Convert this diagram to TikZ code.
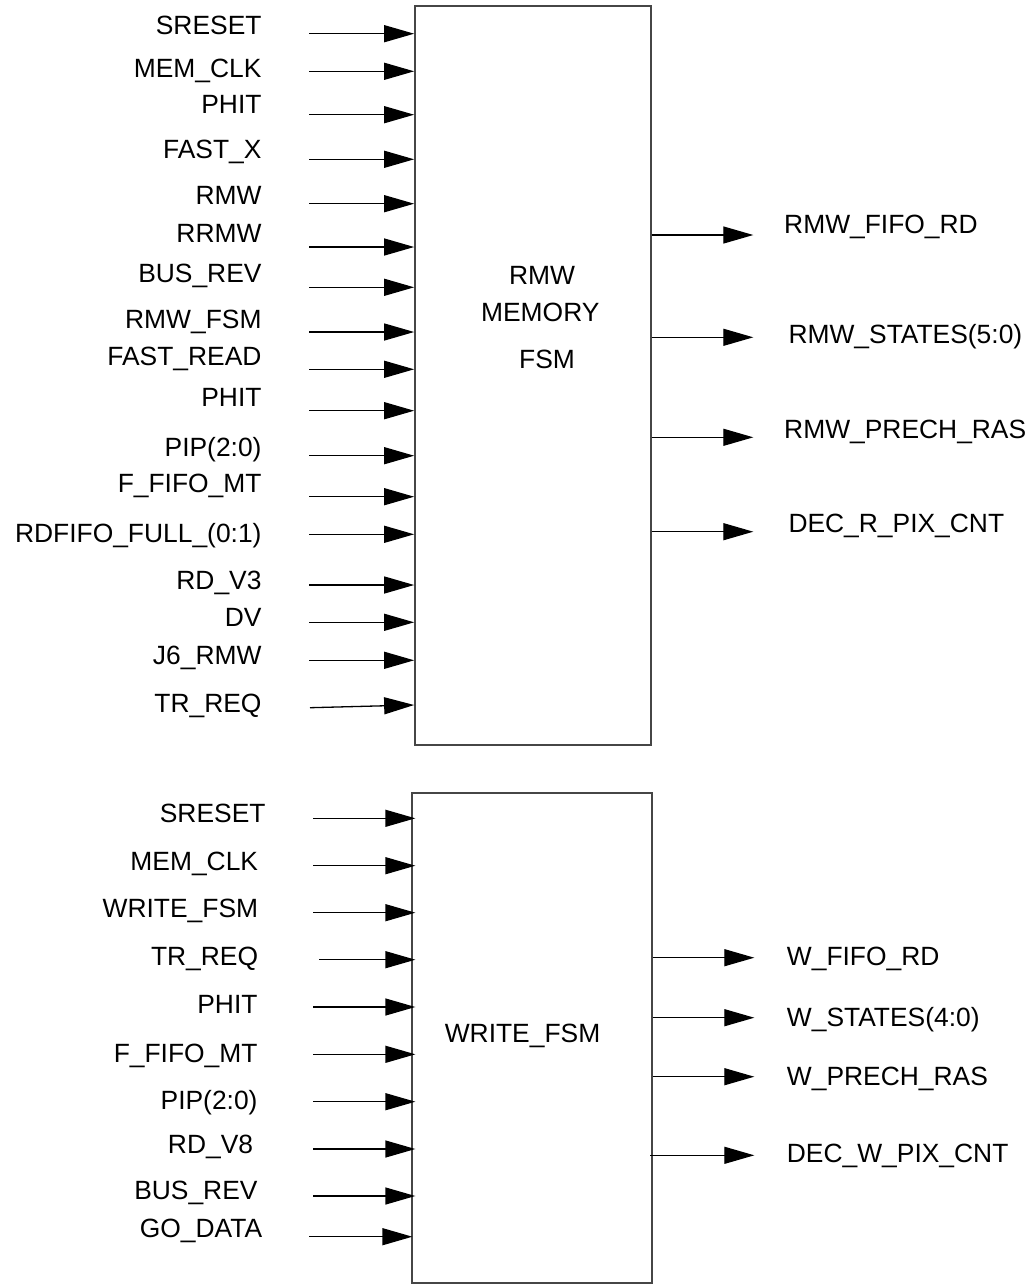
\documentclass[tikz,border=0pt]{standalone}
\usepackage{fontspec}
\setmainfont{Liberation Sans}
\usetikzlibrary{arrows.meta,calc}
\definecolor{boxgray}{RGB}{70,70,70}
\tikzset{
  sig/.style={line width=1.3pt, black, -{Triangle[length=30pt,width=17pt]}},
  fsmbox/.style={draw=boxgray, line width=1.7pt, rectangle, inner sep=0pt, fill=white},
  lbl/.style={inner sep=0pt, font=\fontsize{26.4}{30}\selectfont},
}
\begin{document}
\begin{tikzpicture}[x=1pt,y=-1pt]
\useasboundingbox[fill=white] (0,0) rectangle (1031,1286);
% boxes
\node[fsmbox, minimum width=235.7pt, minimum height=739.3pt] (rmw) at (532.85,375.35) {};
\node[fsmbox, minimum width=240pt, minimum height=490pt] (wfsm) at (531.7,1038.3) {};
% box texts
\node[lbl, anchor=base] (t1) at (542,284.45) {RMW};
\node[lbl, anchor=base] (t2) at (540.3,321.95) {MEMORY};
\node[lbl, anchor=base] (t3) at (547,368.95) {FSM};
\node[lbl, anchor=base] (t4) at (522.5,1042.75) {WRITE\_FSM};
% top inputs
\foreach \i/\t/\ly/\ay in {
  1/SRESET/24.7/33.7, 2/MEM\_CLK/67.8/71.3, 3/PHIT/103.8/114.7,
  4/FAST\_X/148.7/159.3, 5/RMW/195.3/203.7, 6/RRMW/233.3/247,
  7/BUS\_REV/273.3/287.3, 8/RMW\_FSM/318.8/332, 9/FAST\_READ/356/369.3,
  10/PHIT/396.7/410.7, 11/PIP(2:0)/447.2/455.7, 12/F\_FIFO\_MT/482.8/496.7,
  13/RDFIFO\_FULL\_(0:1)/532.8/534.3, 14/RD\_V3/580.5/585, 15/DV/616.7/622.3,
  16/J6\_RMW/655.3/660.3}{
  \node[lbl, anchor=base east] (a\i) at (261.7,\ly+9.45) {\t};
  \coordinate (as\i) at (309.3,\ay);
  \draw[sig] (as\i) -- (rmw.west |- as\i);
}
\node[lbl, anchor=base east] (a17) at (261.7,712.15) {TR\_REQ};
\coordinate (as17) at (310,707.7);
\coordinate (ae17) at (310,705);
\draw[sig] (as17) -- (rmw.west |- ae17);
% top outputs
\foreach \i/\t/\lx/\ly/\ay in {
  1/RMW\_FIFO\_RD/784/223.8/235, 2/RMW\_STATES(5:0)/788.3/333.7/337.3,
  3/RMW\_PRECH\_RAS/784/429.2/437.3, 4/DEC\_R\_PIX\_CNT/788.3/522.8/531.7}{
  \node[lbl, anchor=base west] (b\i) at (\lx,\ly+9.45) {\t};
  \coordinate (be\i) at (753.3,\ay);
  \draw[sig] (rmw.east |- be\i) -- (be\i);
}
% bottom inputs
\foreach \i/\t/\lx/\ly/\ay/\sx in {
  1/SRESET/265.7/812.8/818.3/313.3, 2/MEM\_CLK/258.3/861.2/865.7/313.3,
  3/WRITE\_FSM/258.3/908.5/912.7/313.3, 4/TR\_REQ/258.3/956.2/959.7/319,
  5/PHIT/257.7/1004.5/1007/313.3, 6/F\_FIFO\_MT/257.7/1052.8/1054.3/313.3,
  7/PIP(2:0)/257.7/1100.5/1101.7/313.3, 8/RD\_V8/253.3/1144.5/1149/313.3,
  9/BUS\_REV/257.7/1190.5/1196/313.3}{
  \node[lbl, anchor=base east] (c\i) at (\lx,\ly+9.45) {\t};
  \coordinate (cs\i) at (\sx,\ay);
  \draw[sig, shorten >=-4.5pt] (cs\i) -- (wfsm.west |- cs\i);
}
\node[lbl, anchor=base east] (c10) at (262.3,1237.95) {GO\_DATA};
\coordinate (cs10) at (309.3,1236.7);
\draw[sig, shorten >=-1.5pt] (cs10) -- (wfsm.west |- cs10);
% bottom outputs
\foreach \i/\t/\ly/\ay in {
  1/W\_FIFO\_RD/956.5/957.7, 2/W\_STATES(4:0)/1016.7/1017.7,
  3/W\_PRECH\_RAS/1075.8/1076.7}{
  \node[lbl, anchor=base west] (d\i) at (786.7,\ly+9.45) {\t};
  \coordinate (de\i) at (754.3,\ay);
  \draw[sig] (wfsm.east |- de\i) -- (de\i);
}
\node[lbl, anchor=base west] (d4) at (786.7,1162.25) {DEC\_W\_PIX\_CNT};
\coordinate (de4) at (754.3,1155.3);
\draw[sig, shorten <=-2.4pt] (wfsm.east |- de4) -- (de4);
\end{tikzpicture}
\end{document}
